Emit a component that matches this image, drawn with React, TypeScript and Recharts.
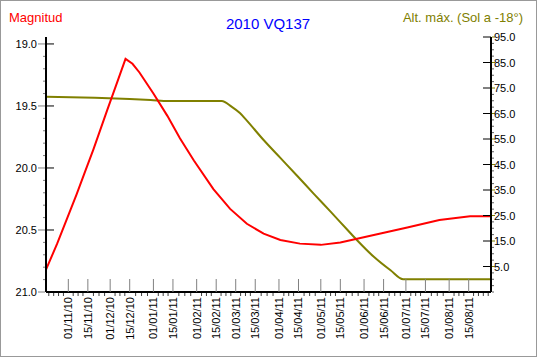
import { LineChart, Line, XAxis, YAxis } from 'recharts';

// day 0 of the x axis
const START = Date.UTC(2010, 9, 16);
const DAY = 86400000;
const X_END = 319;

const MAG_DATES = [
  '2010-10-16', '2010-10-24', '2010-10-31', '2010-11-07', '2010-11-13', '2010-11-19',
  '2010-11-29', '2010-12-06', '2010-12-12', '2010-12-17', '2010-12-22', '2011-01-01',
  '2011-01-11', '2011-01-20', '2011-01-30', '2011-02-13', '2011-02-25', '2011-03-09',
  '2011-03-21', '2011-04-02', '2011-04-16', '2011-05-01', '2011-05-15', '2011-06-08',
  '2011-07-02', '2011-07-25', '2011-08-16', '2011-08-31',
];
const MAG_VALUES = [
  20.82, 20.61, 20.41, 20.21, 20.03, 19.85,
  19.53, 19.31, 19.12, 19.16, 19.23, 19.40,
  19.58, 19.76, 19.94, 20.17, 20.33, 20.45,
  20.53, 20.58, 20.61, 20.62, 20.60, 20.54,
  20.48, 20.42, 20.39, 20.39,
];

const ALT_DATES = [
  '2010-10-16', '2010-11-20', '2010-12-15', '2010-12-30', '2011-01-12', '2011-02-19',
  '2011-02-26', '2011-03-04', '2011-03-09', '2011-03-21', '2011-04-02', '2011-04-14',
  '2011-04-26', '2011-05-08', '2011-05-20', '2011-05-27', '2011-06-08', '2011-06-20',
  '2011-06-29', '2011-08-31',
];
const ALT_VALUES = [
  71.6, 71.2, 70.7, 70.3, 69.9, 69.9,
  67.7, 65.2, 62.2, 54.6, 47.6, 40.6,
  33.5, 26.5, 19.4, 15.3, 8.8, 3.5,
  0, 0,
];

const DATE_TICKS = [
  '01/11/10', '15/11/10', '01/12/10', '15/12/10', '01/01/11', '15/01/11', '01/02/11',
  '15/02/11', '01/03/11', '15/03/11', '01/04/11', '15/04/11', '01/05/11', '15/05/11',
  '01/06/11', '15/06/11', '01/07/11', '15/07/11', '01/08/11', '15/08/11',
];
const MAG_MAJOR = [19.0, 19.5, 20.0, 20.5, 21.0];
const ALT_MAJOR = [5, 15, 25, 35, 45, 55, 65, 75, 85, 95];

const isoToDay = (s: string) => {
  const [y, m, d] = s.split('-').map(Number);
  return (Date.UTC(y, m - 1, d) - START) / DAY;
};
const labelToDay = (s: string) => {
  const [d, m, y] = s.split('/').map(Number);
  return (Date.UTC(2000 + y, m - 1, d) - START) / DAY;
};

const magData = MAG_DATES.map((d, i) => ({ t: isoToDay(d), mag: MAG_VALUES[i] }));
const altData = ALT_DATES.map((d, i) => ({ t: isoToDay(d), alt: ALT_VALUES[i] }));

const majorDays = DATE_TICKS.map(labelToDay);
const minorDays: number[] = [];
for (let i = 0; i < majorDays.length - 1; i++) {
  const step = (majorDays[i + 1] - majorDays[i]) / 4;
  for (let k = 1; k < 4; k++) minorDays.push(majorDays[i] + k * step);
}
{
  const s0 = (majorDays[1] - majorDays[0]) / 4;
  for (let t = majorDays[0] - s0; t > 0.5; t -= s0) minorDays.push(t);
  const n = majorDays.length;
  const s1 = (majorDays[n - 1] - majorDays[n - 2]) / 4;
  for (let t = majorDays[n - 1] + s1; t < X_END - 0.5; t += s1) minorDays.push(t);
}
const xTicks = [...majorDays, ...minorDays].sort((a, b) => a - b);

const magTicks = Array.from({ length: 21 }, (_, i) => (190 + i) / 10);
const altTicks = Array.from({ length: 41 }, (_, i) => -5 + i * 2.5);

const FONT = '"Liberation Sans", Arial, sans-serif';
const near = (list: number[], v: number) => list.findIndex((m) => Math.abs(m - v) < 1e-6);

function DateTick({ x, y, payload }: any) {
  const i = near(majorDays, payload.value);
  if (i < 0) return <line x1={x} x2={x} y1={y + 1} y2={y + 4} stroke="#404040" />;
  return (
    <g>
      <line x1={x} x2={x} y1={y - 13} y2={y} stroke="#808080" />
      <text
        x={x}
        y={y + 5}
        dy={4}
        transform={`rotate(-90 ${x} ${y + 5})`}
        textAnchor="end"
        fontSize={11}
        fontFamily={FONT}
        fill="#000"
      >
        {DATE_TICKS[i]}
      </text>
    </g>
  );
}

function MagTick({ x, y, payload }: any) {
  if (near(MAG_MAJOR, payload.value) < 0) return <line x1={x - 3} x2={x - 1} y1={y} y2={y} stroke="#808080" />;
  return (
    <g>
      <line x1={x - 8} x2={x - 1} y1={y} y2={y} stroke="#808080" />
      <line x1={x} x2={x + 8} y1={y} y2={y} stroke="#000" />
      <text x={x - 9} y={y} dy={4} textAnchor="end" fontSize={11} fontFamily={FONT} fill="#000">
        {payload.value.toFixed(1)}
      </text>
    </g>
  );
}

function AltTick({ x, y, payload }: any) {
  if (near(ALT_MAJOR, payload.value) < 0) return <line x1={x + 1} x2={x + 3} y1={y} y2={y} stroke="#606060" />;
  return (
    <g>
      <line x1={x - 8} x2={x} y1={y} y2={y} stroke="#000" />
      <line x1={x + 1} x2={x + 4} y1={y} y2={y} stroke="#808000" />
      <text x={x + 3} y={y} dy={4} textAnchor="start" fontSize={11} fontFamily={FONT} fill="#000">
        {payload.value.toFixed(1)}
      </text>
    </g>
  );
}

export default function App() {
  return (
    <div style={{ position: 'absolute', left: 0, top: 0, width: 537, height: 357, background: '#fff' }}>
      <LineChart width={537} height={357} margin={{ top: 37, right: 0, left: 0, bottom: 0 }}>
        <XAxis
          xAxisId="top"
          orientation="top"
          type="number"
          dataKey="t"
          domain={[0, X_END]}
          height={0}
          tick={false}
          tickLine={false}
          axisLine={{ stroke: '#000' }}
        />
        <XAxis
          xAxisId="x"
          type="number"
          dataKey="t"
          domain={[0, X_END]}
          ticks={xTicks}
          interval={0}
          height={65}
          tickSize={0}
          tickMargin={0}
          tickLine={false}
          axisLine={{ stroke: '#000', strokeWidth: 2 }}
          tick={<DateTick />}
        />
        <YAxis
          yAxisId="mag"
          orientation="left"
          reversed
          domain={[18.944, 21]}
          ticks={magTicks}
          interval={0}
          width={46}
          tickSize={0}
          tickMargin={0}
          tickLine={false}
          axisLine={{ stroke: '#000', strokeWidth: 2 }}
          tick={<MagTick />}
          allowDataOverflow
        />
        <YAxis
          yAxisId="alt"
          orientation="right"
          domain={[-5, 95]}
          ticks={altTicks}
          interval={0}
          width={46}
          tickSize={0}
          tickMargin={0}
          tickLine={false}
          axisLine={{ stroke: '#000', strokeWidth: 2 }}
          tick={<AltTick />}
          allowDataOverflow
        />
        <Line
          xAxisId="x"
          yAxisId="alt"
          data={altData}
          dataKey="alt"
          type="monotone"
          stroke="#808000"
          strokeWidth={2}
          dot={false}
          isAnimationActive={false}
        />
        <Line
          xAxisId="x"
          yAxisId="mag"
          data={magData}
          dataKey="mag"
          type="linear"
          stroke="#ff0000"
          strokeWidth={2}
          dot={false}
          isAnimationActive={false}
        />
      </LineChart>
      <svg width={537} height={357} style={{ position: 'absolute', left: 0, top: 0, pointerEvents: 'none' }}>
        <text x={9} y={22} fontSize={13} fontFamily={FONT} fill="#ff0000">Magnitud</text>
        <text x={268} y={29} fontSize={15} fontFamily={FONT} fill="#0000ff" textAnchor="middle">2010 VQ137</text>
        <text x={523} y={22} fontSize={13} fontFamily={FONT} fill="#808000" textAnchor="end">Alt. máx. (Sol a -18°)</text>
      </svg>
      <div
        style={{
          position: 'absolute',
          left: 0,
          top: 0,
          width: 537,
          height: 357,
          boxSizing: 'border-box',
          border: '1px solid #999',
          pointerEvents: 'none',
        }}
      />
    </div>
  );
}
